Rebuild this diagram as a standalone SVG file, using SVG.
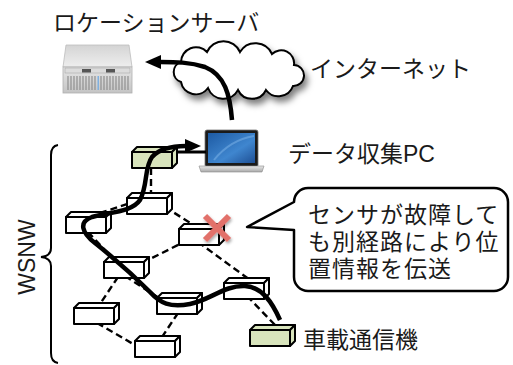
<svg xmlns="http://www.w3.org/2000/svg" xmlns:xlink="http://www.w3.org/1999/xlink" width="513" height="365" viewBox="0 0 513 365">
  <style>
    .lbl { font-family: "Liberation Sans", "Noto Sans CJK JP", sans-serif; fill: #1a1a1a; }
    .lat { font-family: "Liberation Sans", "Noto Sans", sans-serif; fill: #1a1a1a; }
    .edge { stroke: #000; stroke-width: 2.4; stroke-dasharray: 7 4; fill: none; }
    .route { stroke: #000; stroke-width: 4.5; fill: none; stroke-linecap: butt; }
    .plain { fill: #ffffff; }
    .gw { fill: #d8e4bc; }
  </style>
  <defs>
    <!-- 3D sensor box: front face, top face, right face -->
    <g id="box" stroke="#000" stroke-width="2" stroke-linejoin="round">
      <polygon points="0,0 5,-5 45,-5 40,0"/>
      <polygon points="40,0 45,-5 45,11 40,16"/>
      <rect x="0" y="0" width="40" height="16"/>
    </g>
    <marker id="head" viewBox="0 0 16 14" markerUnits="userSpaceOnUse" markerWidth="16" markerHeight="14" refX="1" refY="7" orient="auto">
      <path d="M0,0 L16,7 L0,14 z" fill="#000"/>
    </marker>
    <filter id="shadow" x="-20%" y="-20%" width="150%" height="160%">
      <feDropShadow dx="3" dy="5" stdDeviation="3" flood-color="#000" flood-opacity="0.5"/>
    </filter>
    <filter id="softshadow" x="-30%" y="-30%" width="170%" height="170%">
      <feDropShadow dx="1" dy="2" stdDeviation="1.5" flood-color="#000" flood-opacity="0.35"/>
    </filter>
    <linearGradient id="srvTop" x1="0" y1="0" x2="0" y2="1">
      <stop offset="0" stop-color="#d4d4d4"/>
      <stop offset="1" stop-color="#eeeeee"/>
    </linearGradient>
    <linearGradient id="srvFront" x1="0" y1="0" x2="0" y2="1">
      <stop offset="0" stop-color="#e6e6e6"/>
      <stop offset="1" stop-color="#c4c4c4"/>
    </linearGradient>
    <linearGradient id="screen" x1="0" y1="0" x2="1" y2="1">
      <stop offset="0" stop-color="#1d5aa3"/>
      <stop offset="0.6" stop-color="#3f86cf"/>
      <stop offset="1" stop-color="#1e4f94"/>
    </linearGradient>
    <linearGradient id="lapBase" x1="0" y1="0" x2="0" y2="1">
      <stop offset="0" stop-color="#e8e8e8"/>
      <stop offset="1" stop-color="#a8a8a8"/>
    </linearGradient>
  </defs>

  <!-- labels -->
  <text class="lbl" x="53" y="31" font-size="23">ロケーションサーバ</text>
  <text class="lbl" x="310" y="77" font-size="23">インターネット</text>
  <text class="lbl" x="288" y="162" font-size="23">データ収集PC</text>
  <text class="lbl" x="303" y="348" font-size="23">車載通信機</text>
  <text class="lat" font-size="23" text-anchor="middle" transform="translate(35,257) rotate(-90)">WSNW</text>

  <!-- brace spanning the sensor network -->
  <path d="M58,145 Q51,146 51,155 V248 Q51,256 41,257 Q51,258 51,266 V353 Q51,362 58,363" fill="none" stroke="#000" stroke-width="2"/>

  <!-- location server -->
  <g id="server">
    <polygon points="66,45 129,45 132,67 63,67" fill="url(#srvTop)" stroke="#bdbdbd" stroke-width="0.8"/>
    <rect x="63" y="67" width="69" height="26" fill="url(#srvFront)" stroke="#b0b0b0" stroke-width="0.8"/>
    <rect x="65" y="68" width="65" height="5" fill="#dcdcdc" stroke="#a0a0a0" stroke-width="0.5"/>
    <rect x="82" y="69" width="9" height="3.5" fill="#555"/>
    <rect x="106" y="69" width="9" height="3.5" fill="#555"/>
    <g stroke="#8f8f8f" stroke-width="1.2">
      <path d="M68,76 V90 M71,76 V90 M74,76 V90 M77,76 V90 M80,76 V90 M83,76 V90 M86,76 V90 M89,76 V90 M92,76 V90 M95,76 V90"/>
      <path d="M101,76 V90 M104,76 V90 M107,76 V90 M110,76 V90 M113,76 V90 M116,76 V90 M119,76 V90 M122,76 V90 M125,76 V90 M128,76 V90"/>
    </g>
    <rect x="97.5" y="76" width="1.5" height="14" fill="#7fb0e0"/>
  </g>

  <!-- internet cloud -->
  <g id="internet">
    <path d="M181,62 A15 15 0 0 1 207,52 A18 18 0 0 1 240,52 A18 18 0 0 1 272,54 A13 13 0 0 1 294,65 A10.5 10.5 0 0 1 293,86 A15.5 15.5 0 0 1 266,90 A15.5 15.5 0 0 1 238,90 A16.5 16.5 0 0 1 208,88 A15 15 0 0 1 181,82 A10.5 10.5 0 0 1 181,62 Z" fill="#fff" stroke="#000" stroke-width="2" filter="url(#shadow)"/>
  </g>

  <!-- data collection PC -->
  <g id="pc">
    <rect x="205" y="130" width="53" height="37" rx="2" fill="#1a1a1a" stroke="#777" stroke-width="0.8"/>
    <rect x="208" y="133" width="47" height="30" fill="url(#screen)"/>
    <path d="M214,160 Q230,140 254,136" fill="none" stroke="#7fb6ea" stroke-width="2" opacity="0.5"/>
    <polygon points="199,166 264,166 262,172 201,172" fill="url(#lapBase)" stroke="#8a8a8a" stroke-width="0.6"/>
  </g>

  <!-- connectors -->
  <g id="connectors">
    <line class="edge" x1="151" y1="168" x2="151" y2="193"/>
    <line class="edge" x1="100" y1="213" x2="130" y2="203"/>
    <line class="edge" x1="165" y1="207" x2="195" y2="226"/>
    <line class="edge" x1="88" y1="232" x2="116" y2="262"/>
    <line class="edge" x1="188" y1="240" x2="138" y2="265"/>
    <line class="edge" x1="198" y1="242" x2="250" y2="280"/>
    <line class="edge" x1="125" y1="276" x2="165" y2="302"/>
    <line class="edge" x1="118" y1="277" x2="98" y2="307"/>
    <line class="edge" x1="97" y1="323" x2="140" y2="348"/>
    <line class="edge" x1="178" y1="313" x2="160" y2="340"/>
    <line class="edge" x1="247" y1="296" x2="277" y2="327"/>
    <line x1="176" y1="152" x2="206" y2="152" stroke="#000" stroke-width="3"/>
  </g>

  <!-- sensor nodes -->
  <g id="gateway-top"><use xlink:href="#box" class="gw" x="132" y="152"/></g>
  <g id="sensor-1"><use xlink:href="#box" class="plain" x="127" y="198"/></g>
  <g id="sensor-2"><use xlink:href="#box" class="plain" x="66" y="217"/></g>
  <g id="sensor-3"><use xlink:href="#box" class="plain" x="179" y="229"/></g>
  <g id="sensor-4"><use xlink:href="#box" class="plain" x="104" y="262"/></g>
  <g id="sensor-5"><use xlink:href="#box" class="plain" x="157" y="298"/></g>
  <g id="sensor-6"><use xlink:href="#box" class="plain" x="74" y="308"/></g>
  <g id="sensor-7"><use xlink:href="#box" class="plain" x="135" y="341"/></g>
  <g id="sensor-8"><use xlink:href="#box" class="plain" x="224" y="283"/></g>
  <g id="vehicle"><use xlink:href="#box" class="gw" x="250" y="330"/></g>

  <!-- failed sensor mark -->
  <g id="failure" stroke="#e2716b" stroke-width="6" filter="url(#softshadow)">
    <line x1="205" y1="216" x2="229" y2="240"/>
    <line x1="229" y1="216" x2="205" y2="240"/>
  </g>

  <!-- routes -->
  <g id="routes">
    <path class="route" d="M280,320 C272,302 262,287 245,286 C225,285 210,300 190,304 C170,308 160,303 150,292 C135,277 110,255 95,243 C82,233 78,222 92,217 C110,212 132,212 140,200 C148,185 144,168 152,157 C160,148 172,146 186,146" marker-end="url(#head)"/>
    <path class="route" d="M232,120 C230,95 225,75 205,67 C190,62 175,62 160,62" marker-end="url(#head)"/>
  </g>

  <!-- callout -->
  <g id="callout">
    <path d="M308,188 H494 A14 14 0 0 1 508,202 V277 A14 14 0 0 1 494,291 H308 A14 14 0 0 1 294,277 V230 L247,227 L294,202 A14 14 0 0 1 308,188 Z" fill="#fff" stroke="#000" stroke-width="2.5" stroke-linejoin="round"/>
    <text class="lbl" font-size="23" letter-spacing="1">
      <tspan x="308" y="223">センサが故障して</tspan>
      <tspan x="308" y="250">も別経路により位</tspan>
      <tspan x="308" y="277">置情報を伝送</tspan>
    </text>
  </g>
</svg>
